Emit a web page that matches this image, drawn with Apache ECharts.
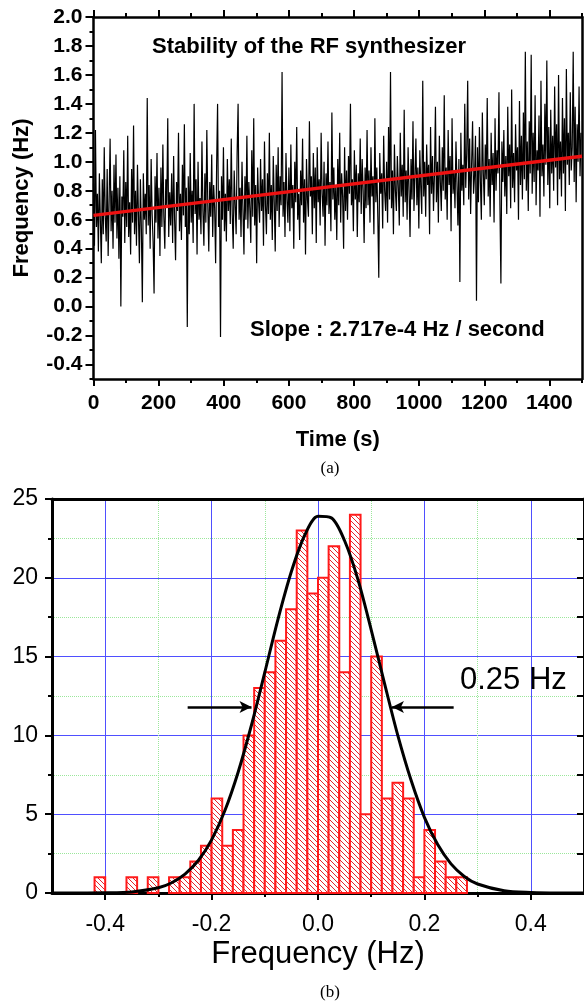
<!DOCTYPE html>
<html>
<head>
<meta charset="utf-8">
<script src="https://cdn.jsdelivr.net/npm/echarts@6/dist/echarts.min.js"></script>
<style>
  html, body { margin: 0; padding: 0; background: #fff; }
  #chart { width: 584px; height: 1005px; }
</style>
</head>
<body>
<div id="chart"></div>
<script>
// (a) frequency readings, one every STEP_S seconds
const STEP_S = 3
const freqHz = [
  0.85, 0.42, 1.22, 0.55, 0.78, 0.38, 0.92, 0.60, 0.30, 0.88,
  0.50, 1.10, 0.62, 0.45, 0.95, 0.35, 0.74, 1.16, 0.52, 0.80,
  0.40, 0.98, 0.58, 1.05, 0.47, 0.82, 0.33, 0.90, 0.00, 0.76,
  0.62, 1.08, 0.44, 0.86, 0.55, 1.18, 0.48, 0.72, 0.36, 0.95,
  0.58, 1.25, 0.50, 0.80, 0.42, 0.98, 0.63, 0.30, 0.88, 0.54,
  0.03, 0.92, 0.60, 0.78, 0.50, 1.44, 0.56, 0.84, 0.40, 1.02,
  0.64, 0.45, 0.09, 0.90, 0.58, 1.06, 0.47, 0.82, 0.35, 0.96,
  0.55, 1.12, 0.62, 0.40, 0.88, 0.70, 1.30, 0.48, 0.79, 0.56,
  0.92, 0.44, 1.04, 0.60, 0.32, 0.86, 0.66, 1.20, 0.52, 0.78,
  0.46, 0.98, 0.63, 1.26, 0.55, 0.82, -0.14, 0.90, 0.50, 1.06,
  0.58, 0.80, 0.44, 1.40, 0.64, 0.88, 0.36, 1.00, 0.60, 0.75,
  0.50, 1.14, 0.66, 0.42, 0.92, 0.58, 1.22, 0.70, 0.38, 0.86,
  0.62, 1.05, 0.48, 0.84, 0.68, 0.30, 0.96, 1.40, 0.55, 0.80,
  -0.21, 0.90, 0.60, 1.10, 0.52, 0.78, 0.45, 1.02, 0.66, 0.88,
  0.57, 1.16, 0.64, 0.40, 0.94, 0.70, 0.50, 1.06, 1.40, 0.60,
  0.82, 0.48, 1.00, 0.66, 0.36, 0.90, 0.60, 1.18, 0.54, 0.86,
  0.68, 0.44, 1.08, 0.62, 1.30, 0.56, 0.84, 0.30, 0.96, 0.72,
  0.58, 1.02, 0.66, 0.88, 0.42, 1.14, 0.70, 0.50, 0.92, 0.64,
  1.20, 0.60, 0.84, 0.46, 1.04, 0.72, 0.38, 0.98, 0.66, 1.10,
  0.55, 0.90, 0.70, 1.62, 0.62, 0.86, 0.48, 1.06, 0.74, 0.58,
  0.96, 0.52, 1.12, 0.68, 0.84, 0.40, 1.00, 0.72, 1.24, 0.60,
  0.78, 0.46, 0.94, 0.70, 1.16, 0.58, 0.88, 0.36, 1.02, 0.74,
  0.62, 1.28, 0.76, 0.90, 0.50, 1.06, 0.68, 0.96, 0.44, 1.10,
  0.72, 0.88, 0.56, 1.20, 0.78, 0.62, 1.00, 0.42, 0.92, 0.70,
  1.14, 0.64, 0.86, 0.52, 1.34, 0.74, 0.96, 0.60, 0.84, 0.46,
  1.02, 0.70, 1.20, 0.58, 0.92, 0.76, 0.40, 1.10, 0.66, 0.94,
  0.60, 1.04, 0.78, 1.40, 0.70, 0.88, 0.52, 1.08, 0.74, 0.98,
  0.48, 0.92, 0.72, 1.16, 0.64, 1.02, 0.80, 0.44, 0.96, 0.68,
  1.22, 0.70, 0.94, 0.58, 1.10, 0.76, 0.90, 0.50, 1.30, 0.72,
  0.96, 0.62, 0.20, 1.06, 0.78, 0.92, 0.54, 1.18, 0.80, 0.66,
  1.00, 0.58, 1.24, 0.74, 1.62, 0.68, 0.94, 0.50, 1.12, 0.80,
  0.66, 1.04, 0.82, 0.56, 1.20, 0.76, 0.98, 0.62, 1.36, 0.72,
  0.94, 0.60, 1.10, 0.80, 0.48, 1.02, 0.74, 1.28, 0.66, 0.90,
  1.16, 0.70, 0.96, 0.54, 1.08, 0.82, 0.64, 1.56, 0.76, 1.00,
  0.62, 1.12, 0.84, 0.98, 0.50, 1.24, 0.78, 1.04, 0.66, 0.92,
  1.38, 0.72, 1.00, 0.58, 1.18, 0.86, 0.66, 1.10, 0.80, 1.46,
  0.74, 0.96, 0.60, 1.22, 0.84, 1.04, 0.52, 1.30, 0.78, 0.94,
  0.68, 1.14, 0.86, 0.56, 1.02, 0.17, 1.20, 0.80, 0.98, 0.70,
  1.40, 0.82, 1.06, 1.56, 0.74, 1.16, 0.64, 0.98, 1.28, 0.78,
  0.90, 1.18, 0.04, 1.10, 0.72, 1.24, 0.86, 0.60, 1.34, 0.92,
  0.70, 1.12, 0.88, 1.44, 0.76, 1.02, 0.62, 1.20, 0.84, 1.06,
  0.58, 1.30, 0.80, 1.08, 0.92, 1.48, 0.70, 0.16, 1.14, 0.86,
  1.22, 0.76, 1.04, 0.64, 1.38, 0.90, 1.12, 0.68, 1.50, 0.82,
  1.06, 0.72, 1.26, 0.94, 1.10, 0.60, 1.42, 0.84, 1.18, 0.74,
  1.34, 0.88, 1.76, 0.80, 1.14, 0.66, 1.28, 0.92, 1.74, 0.78,
  1.20, 0.86, 1.46, 0.70, 1.08, 0.94, 1.32, 0.62, 1.56, 0.90,
  1.12, 0.76, 1.40, 0.98, 1.70, 0.84, 1.24, 0.68, 1.36, 0.92,
  1.18, 0.80, 1.52, 0.96, 1.26, 0.70, 1.60, 0.88, 1.14, 0.76,
  1.44, 0.92, 1.30, 0.66, 1.64, 0.98, 1.20, 0.84, 1.48, 0.94,
  1.10, 1.76, 0.86, 1.38, 0.72, 1.26, 1.00, 1.52, 0.90, 1.20
]
const fitTime = [0, 1500]
const fitFreq = [0.63, 1.0376]

const timeTicks = [0, 200, 400, 600, 800, 1000, 1200, 1400]
const timeMinorTicks = [100, 300, 500, 700, 900, 1100, 1300, 1500]
const freqTicks = [-0.4, -0.2, 0.0, 0.2, 0.4, 0.6, 0.8, 1.0, 1.2, 1.4, 1.6, 1.8, 2.0]
const freqMinorTicks = [-0.5, -0.3, -0.1, 0.1, 0.3, 0.5, 0.7, 0.9, 1.1, 1.3, 1.5, 1.7, 1.9]

// (b) histogram, bins 0.02 Hz wide
const BIN_W = 0.02
const binLeft = [-0.42, -0.36, -0.32, -0.28, -0.26, -0.24, -0.22, -0.20, -0.18, -0.16,
  -0.14, -0.12, -0.10, -0.08, -0.06, -0.04, -0.02, 0.00, 0.02, 0.04,
  0.06, 0.08, 0.10, 0.12, 0.14, 0.16, 0.18, 0.20, 0.22, 0.24, 0.26]
const binCount = [1, 1, 1, 1, 1, 2, 3, 6, 3, 4,
  10, 13, 14, 16, 18, 23, 19, 20, 22, 14,
  24, 5, 15, 6, 7, 6, 1, 4, 2, 1, 1]

const gaussX = [-0.5, -0.45, -0.4, -0.35, -0.3, -0.275, -0.25, -0.225, -0.2, -0.175, -0.15,
  -0.125, -0.1, -0.075, -0.05, -0.025, 0, 0.025, 0.05, 0.075, 0.1, 0.125, 0.15, 0.175,
  0.2, 0.225, 0.25, 0.275, 0.3, 0.35, 0.4, 0.45, 0.5]
const gaussY = [0.0, 0.0, 0.01, 0.07, 0.33, 0.65, 1.2, 2.06, 3.37, 5.23, 7.68,
  10.66, 14.0, 17.4, 20.4, 22.7, 23.9, 23.8, 22.35, 19.9, 16.7, 13.3, 10.0, 7.15,
  4.8, 3.07, 1.85, 1.05, 0.57, 0.14, 0.03, 0.0, 0.0]

const histTicksX = [-0.4, -0.2, 0.0, 0.2, 0.4]
const histMinorX = [-0.3, -0.1, 0.1, 0.3]
const fwhmLeft = [[-0.245, 11.8], [-0.125, 11.8]]
const fwhmRight = [[0.255, 11.8], [0.139, 11.8]]

// hatch pattern for histogram bars
const hatch = document.createElement('canvas')
hatch.width = 5
hatch.height = 5
const hctx = hatch.getContext('2d')
hctx.fillStyle = '#fff'
hctx.fillRect(0, 0, 5, 5)
hctx.strokeStyle = '#e8242c'
hctx.lineWidth = 1
for (const k of [-5, 0, 5]) {
  hctx.beginPath()
  hctx.moveTo(k, 0)
  hctx.lineTo(k + 5, 5)
  hctx.stroke()
}

const sansFont = '"Liberation Sans", Arial, sans-serif'
const black = '#000'
const blue = '#4f4fff'
const green = '#9be79b'

const chart = echarts.init(document.getElementById('chart'))

const topAxisBase = {
  gridIndex: 0, type: 'value', min: 0, max: 1500,
  axisLabel: { show: false }, splitLine: { show: false }
}
const leftAxisBase = {
  gridIndex: 0, type: 'value', min: -0.5, max: 2.0,
  axisLabel: { show: false }, splitLine: { show: false }
}
const line = (w, show = true) => ({ show, onZero: false, lineStyle: { color: black, width: w } })

const option = {
  animation: false,
  backgroundColor: '#fff',
  grid: [
    { left: 93.5, top: 17, width: 488.5, height: 362 },
    { left: 52, top: 499, width: 533, height: 394 }
  ],
  xAxis: [
    {
      ...topAxisBase, position: 'bottom',
      axisLine: line(2.5),
      axisTick: { customValues: timeTicks, length: 7, lineStyle: { color: black, width: 2 } },
      axisLabel: {
        show: true, customValues: timeTicks, margin: 14, color: black, fontSize: 21, fontWeight: 'bold', fontFamily: sansFont,
        formatter: v => String(v)
      },
      name: 'Time (s)', nameLocation: 'middle', nameGap: 50,
      nameTextStyle: { color: black, fontSize: 22, fontWeight: 'bold', fontFamily: sansFont }
    },
    {
      ...topAxisBase, position: 'bottom',
      axisLine: line(0, false),
      axisTick: { customValues: timeMinorTicks, length: 4, lineStyle: { color: black, width: 2 } }
    },
    {
      ...topAxisBase, position: 'top',
      axisLine: line(2.5),
      axisTick: { customValues: timeTicks, length: 7, lineStyle: { color: black, width: 2 } }
    },
    {
      ...topAxisBase, position: 'top',
      axisLine: line(0, false),
      axisTick: { customValues: timeMinorTicks, length: 4, lineStyle: { color: black, width: 2 } }
    },
    {
      gridIndex: 1, type: 'value', min: -0.5, max: 0.5, position: 'bottom',
      axisLine: line(3),
      axisTick: { customValues: histTicksX, length: 7, lineStyle: { color: black, width: 2 } },
      axisLabel: {
        customValues: histTicksX, margin: 20, color: black, fontSize: 23, fontFamily: sansFont,
        formatter: v => v.toFixed(1)
      },
      splitLine: { show: true, lineStyle: { color: blue, width: 1 } },
      name: 'Frequency (Hz)', nameLocation: 'middle', nameGap: 46,
      nameTextStyle: { color: black, fontSize: 31, fontFamily: sansFont }
    },
    {
      gridIndex: 1, type: 'value', min: -0.5, max: 0.5, position: 'bottom',
      axisLine: line(0, false),
      axisTick: { customValues: histMinorX, length: 4, lineStyle: { color: black, width: 2 } },
      axisLabel: { show: false },
      splitLine: { show: true, lineStyle: { color: green, width: 1, type: 'dotted' } }
    },
    {
      gridIndex: 1, type: 'value', min: -0.5, max: 0.5, position: 'top',
      axisLine: line(3),
      axisTick: { show: false }, axisLabel: { show: false }, splitLine: { show: false }
    }
  ],
  yAxis: [
    {
      ...leftAxisBase, position: 'left',
      axisLine: line(2.5),
      axisTick: { customValues: freqTicks, length: 8, lineStyle: { color: black, width: 2 } },
      axisLabel: {
        show: true, customValues: freqTicks, margin: 11, color: black, fontSize: 21, fontWeight: 'bold', fontFamily: sansFont,
        formatter: v => v.toFixed(1)
      },
      name: 'Frequency (Hz)', nameLocation: 'middle', nameGap: 61,
      nameTextStyle: { color: black, fontSize: 22, fontWeight: 'bold', fontFamily: sansFont }
    },
    {
      ...leftAxisBase, position: 'left',
      axisLine: line(0, false),
      axisTick: { customValues: freqMinorTicks, length: 4, lineStyle: { color: black, width: 2 } }
    },
    {
      ...leftAxisBase, position: 'right',
      axisLine: line(2.5),
      axisTick: { show: false }
    },
    {
      gridIndex: 1, type: 'value', min: 0, max: 25, interval: 5, position: 'left',
      axisLine: line(3),
      axisTick: { show: true, length: 7, lineStyle: { color: black, width: 2 } },
      minorTick: { show: true, splitNumber: 2, length: 4, lineStyle: { color: black, width: 2 } },
      axisLabel: { margin: 14, color: black, fontSize: 23, fontFamily: sansFont },
      splitLine: { show: true, lineStyle: { color: blue, width: 1 } },
      minorSplitLine: { show: true, lineStyle: { color: green, width: 1, type: 'dotted' } }
    },
    {
      gridIndex: 1, type: 'value', min: 0, max: 25, interval: 5, position: 'right',
      axisLine: line(3),
      axisTick: { show: true, inside: true, length: 7, lineStyle: { color: black, width: 2 } },
      minorTick: { show: true, splitNumber: 2, length: 7, lineStyle: { color: black, width: 2 } },
      axisLabel: { show: false },
      splitLine: { show: false }
    }
  ],
  series: [
    {
      type: 'line', xAxisIndex: 0, yAxisIndex: 0,
      data: freqHz.map((v, i) => [i * STEP_S, v]),
      showSymbol: false, silent: true,
      lineStyle: { color: '#000', width: 1.2 }
    },
    {
      type: 'line', xAxisIndex: 0, yAxisIndex: 0,
      data: fitTime.map((t, i) => [t, fitFreq[i]]),
      showSymbol: false, silent: true, z: 5,
      lineStyle: { color: '#ee1111', width: 3.5 }
    },
    {
      type: 'custom', xAxisIndex: 4, yAxisIndex: 3,
      data: binLeft.map((x, i) => [x, x + BIN_W, binCount[i]]),
      encode: { x: [0, 1], y: 2 },
      renderItem: (params, api) => {
        const p0 = api.coord([api.value(0), api.value(2)])
        const p1 = api.coord([api.value(1), 0])
        return {
          type: 'rect',
          shape: { x: p0[0], y: p0[1], width: p1[0] - p0[0], height: p1[1] - p0[1] },
          style: { fill: { image: hatch, repeat: 'repeat' }, stroke: '#ff1a1a', lineWidth: 2 }
        }
      },
      silent: true, z: 3
    },
    {
      type: 'line', xAxisIndex: 4, yAxisIndex: 3,
      data: gaussX.map((x, i) => [x, gaussY[i]]),
      smooth: 0.3, showSymbol: false, silent: true, z: 6,
      lineStyle: { color: black, width: 3 },
      markLine: {
        silent: true, symbol: ['none', 'arrow'], symbolSize: [9, 12],
        label: { show: false },
        lineStyle: { color: black, width: 2.5, type: 'solid' },
        data: [
          [{ coord: fwhmLeft[0] }, { coord: fwhmLeft[1] }],
          [{ coord: fwhmRight[0] }, { coord: fwhmRight[1] }]
        ]
      }
    }
  ],
  graphic: [
    {
      type: 'text', x: 152, y: 47, z: 100,
      style: { text: 'Stability of the RF synthesizer', fill: black, font: 'bold 22px ' + sansFont, textVerticalAlign: 'middle' }
    },
    {
      type: 'text', x: 250, y: 330, z: 100,
      style: { text: 'Slope : 2.717e-4 Hz / second', fill: black, font: 'bold 22px ' + sansFont, textVerticalAlign: 'middle' }
    },
    {
      type: 'text', x: 330, y: 469, z: 100,
      style: { text: '(a)', fill: black, font: '17px "Liberation Serif", "Times New Roman", serif', textAlign: 'center', textVerticalAlign: 'middle' }
    },
    {
      type: 'text', x: 460, y: 680, z: 100,
      style: { text: '0.25 Hz', fill: black, font: '31px ' + sansFont, textVerticalAlign: 'middle' }
    },
    {
      type: 'text', x: 330, y: 993, z: 100,
      style: { text: '(b)', fill: black, font: '17px "Liberation Serif", "Times New Roman", serif', textAlign: 'center', textVerticalAlign: 'middle' }
    }
  ]
}

chart.setOption(option)
</script>
</body>
</html>
